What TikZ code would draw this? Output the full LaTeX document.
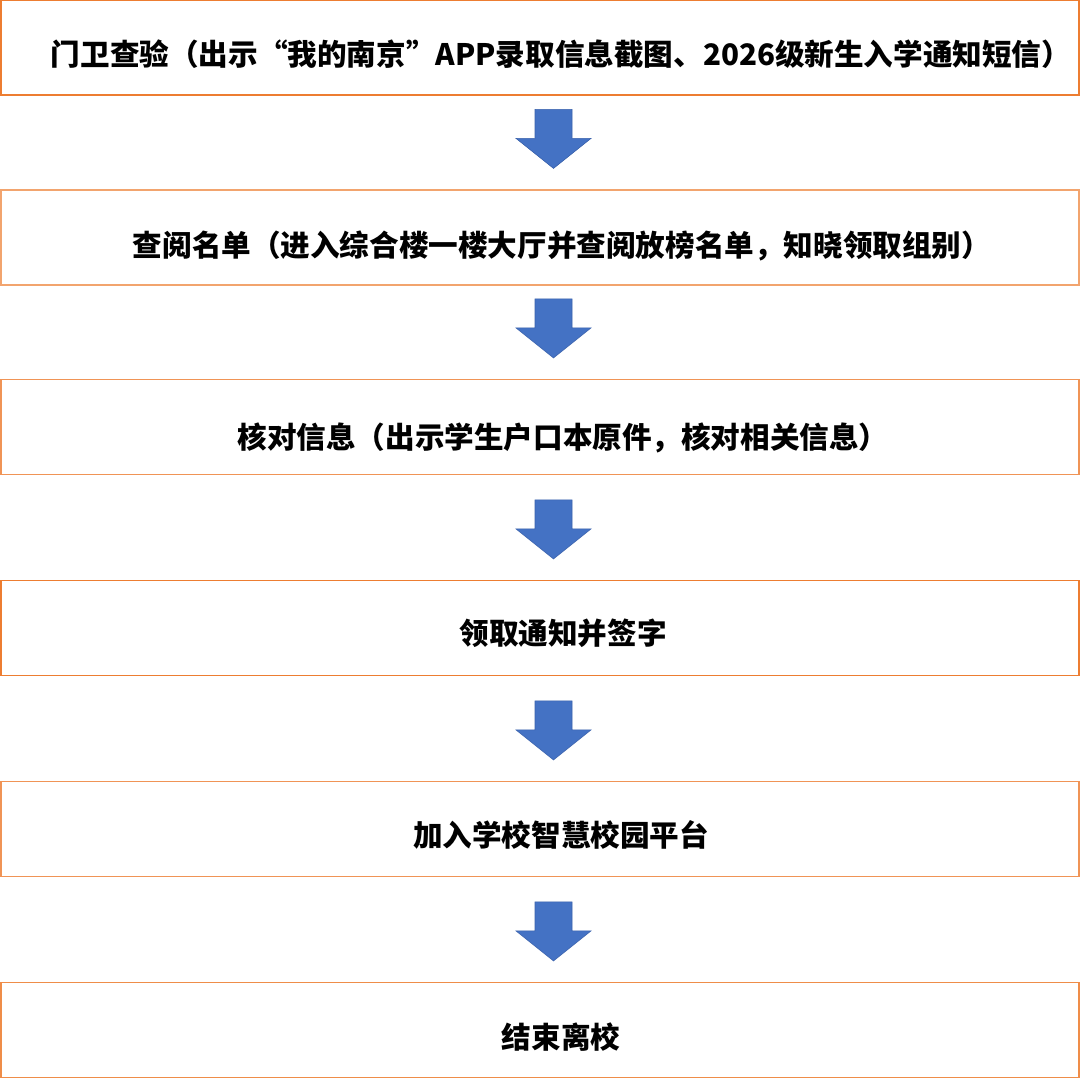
\documentclass[tikz,border=0pt]{standalone}
\usepackage{fontspec}
\newfontfamily\cjk{Noto Sans CJK SC}
\usetikzlibrary{calc}
\definecolor{boxorange}{HTML}{ED7D31}
\definecolor{boxpeach}{HTML}{F2A46E}
\definecolor{arrowfill}{HTML}{4472C4}
\definecolor{arrowline}{HTML}{3A62AC}
\tikzset{
  box/.style={draw=boxorange, line width=1.2pt, fill=white, rectangle,
    minimum width=1078pt, minimum height=95pt, inner sep=0pt},
  lbl/.style={anchor=base, inner sep=0pt, font=\cjk\bfseries\fontsize{29.6pt}{34pt}\selectfont, text=black},
  blockarrow/.style={fill=arrowfill, draw=arrowline, line width=0.6pt, line join=miter}
}
\newcommand{\downblock}[2]{%
  \draw[blockarrow] ($(#2.north)+(13.5,-21)$) -- ++(-37.5,-30) -- ++(19,0) -- ++(0,-29)
     -- ++(37,0) -- ++(0,29) -- ++(19,0) -- cycle;}
\begin{document}
\begin{tikzpicture}[x=1pt,y=-1pt]
\useasboundingbox[fill=white] (0,0) rectangle (1080,1079);
\node[box] (b1) at (540,47.5) {};
\node[box, draw=boxpeach] (b2) at (540,237.5) {};
\node[box, draw=boxpeach!60!boxorange] (b3) at (540,427) {};
\node[box] (b4) at (540,628) {};
\node[box, draw=boxpeach!60!boxorange] (b5) at (540,829) {};
\node[box, draw=boxpeach!40!boxorange] (b6) at (540,1030) {};

\node[lbl] (t1) at (561,65) {门卫查验（出示“我的南京”APP录取信息截图、2026级新生入学通知短信）};
\node[lbl] (t2) at (562,256) {查阅名单（进入综合楼一楼大厅并查阅放榜名单，知晓领取组别）};
\node[lbl] (t3) at (563,448) {核对信息（出示学生户口本原件，核对相关信息）};
\node[lbl] (t4) at (563,644) {领取通知并签字};
\node[lbl] (t5) at (561,846) {加入学校智慧校园平台};
\node[lbl] (t6) at (561,1048) {结束离校};

\downblock{b1}{b2}
\downblock{b2}{b3}
\downblock{b3}{b4}
\downblock{b4}{b5}
\downblock{b5}{b6}
\end{tikzpicture}
\end{document}
